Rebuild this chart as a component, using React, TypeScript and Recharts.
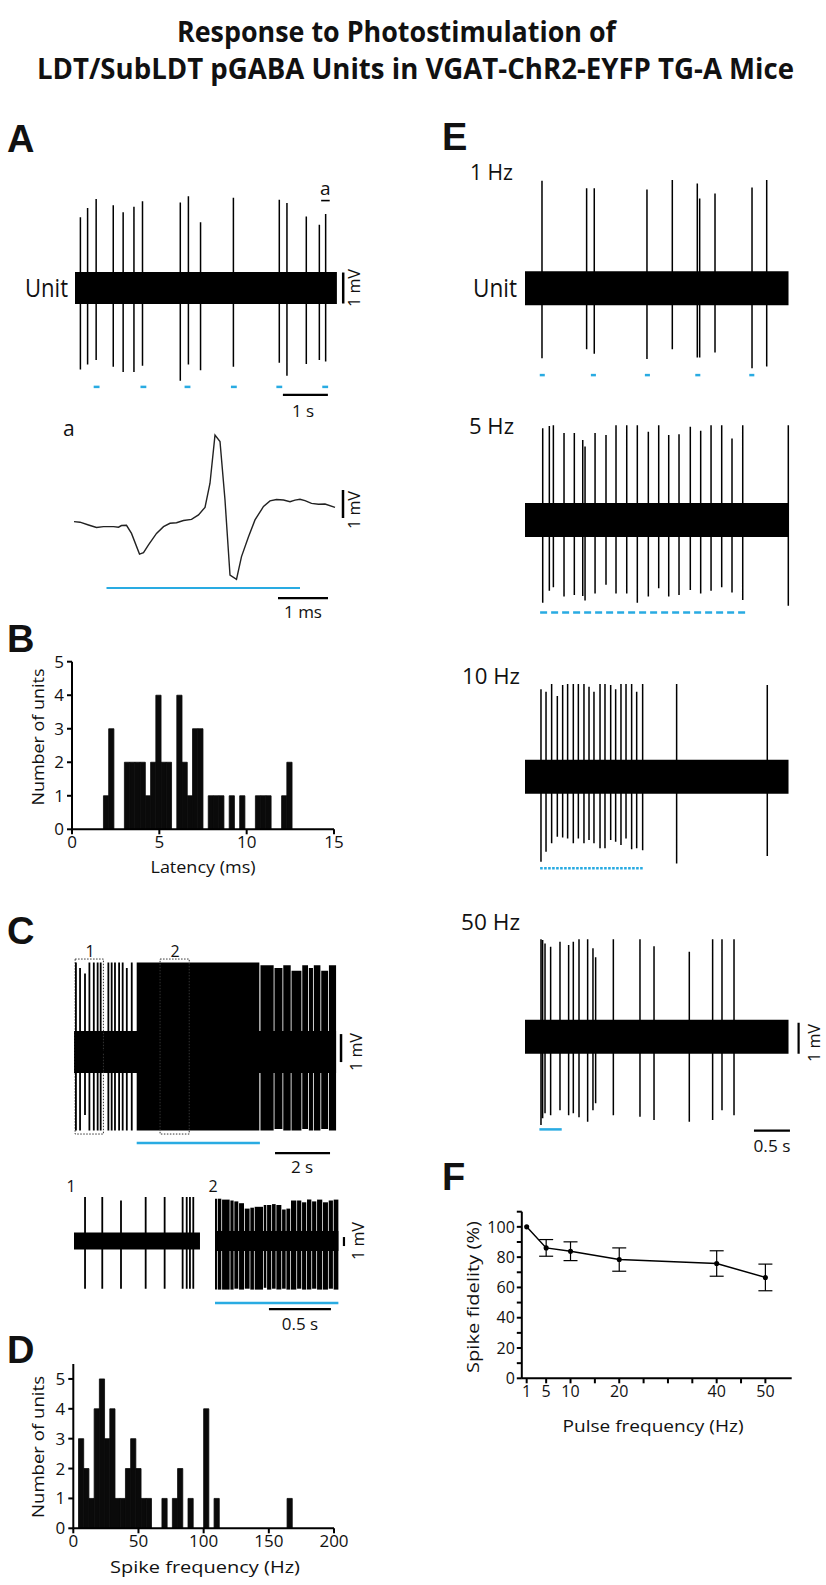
import React from "react";
import { LineChart, Line, XAxis, YAxis, ReferenceArea, ReferenceLine, BarChart, Bar, ErrorBar } from "recharts";

const BLUE = "#29abe2";
const INK = "#111";

// ---------- Panel A : unit trace (t in s, up / down amplitude in mV) ----------
const aSpikes = [
  [0.12, 2.28, 2.63], [0.28, 2.58, 2.47], [0.47, 2.87, 2.32], [0.85, 2.67, 2.54],
  [1.07, 2.44, 2.71], [1.31, 2.62, 2.71], [1.5, 2.8, 2.51], [2.34, 2.76, 2.99],
  [2.52, 2.96, 2.47], [2.79, 2.12, 2.65], [3.52, 2.91, 2.54], [4.54, 2.85, 2.41],
  [4.71, 2.74, 2.83], [5.14, 2.31, 2.45], [5.43, 2.04, 2.32], [5.57, 2.39, 2.37],
];
const aPulses = [0.48, 1.52, 2.5, 3.53, 4.54, 5.56];
const aNoise = [0, 5.82, 0.52];
const aScaleT = [4.62, 5.62, -3.45];
const aScaleV = [5.96, 0.5, -0.5];
const aMark = [5.47, 5.66, 2.82];

// ---------- Panel a : spike waveform (t in ms, mV) ----------
const waveT = [0, 0.12, 0.29, 0.45, 0.59, 0.79, 0.89, 0.95, 1.05, 1.15, 1.31, 1.39, 1.49, 1.65, 1.79, 1.92, 2.05, 2.19, 2.35, 2.49, 2.62, 2.72, 2.82, 2.92, 3.02, 3.12, 3.25, 3.35, 3.49, 3.62, 3.79, 3.92, 4.05, 4.19, 4.32, 4.42, 4.52, 4.62, 4.75, 4.89, 5.02, 5.22];
const waveV = [0.06, 0.04, -0.06, -0.15, -0.12, -0.12, -0.14, -0.08, -0.07, -0.36, -1.1, -1.05, -0.77, -0.36, -0.12, 0, 0.02, 0.1, 0.14, 0.3, 0.57, 1.43, 3.15, 2.92, 0.83, -1.85, -2.0, -1.19, -0.48, 0.12, 0.6, 0.8, 0.85, 0.83, 0.77, 0.83, 0.86, 0.81, 0.71, 0.68, 0.69, 0.57];
const waveLight = [0.65, 4.52, -2.31];
const waveScaleT = [4.08, 5.08, -2.67];
const waveScaleV = [5.38, 1.19, 0.19];

// ---------- Panel B : latency histogram ----------
const bBinStart = [1.8, 2.1, 3.0, 3.3, 3.6, 3.9, 4.2, 4.5, 4.8, 5.1, 5.4, 6.0, 6.3, 6.6, 6.9, 7.2, 7.8, 8.1, 8.4, 9.0, 9.6, 10.5, 10.8, 11.1, 12.0, 12.3];
const bCounts = [1, 3, 2, 2, 2, 2, 1, 2, 4, 2, 2, 4, 2, 1, 3, 3, 1, 1, 1, 1, 1, 1, 1, 1, 1, 2];
const bBinWidth = 0.3;
const bTicksX = [0, 5, 10, 15];
const bTicksY = [0, 1, 2, 3, 4, 5];

// ---------- Panel C : long trace ----------
const cSpikes = [
  [0.07, 3.2, 2.8], [0.22, 3.0, 2.8], [0.4, 2.8, 2.25], [0.56, 3.2, 2.8], [0.72, 3.2, 2.8],
  [0.86, 3.2, 2.8], [0.97, 3.2, 2.8], [1.25, 3.2, 2.8], [1.37, 3.2, 2.8], [1.49, 3.2, 2.8],
  [1.64, 3.2, 2.8], [1.77, 3.2, 2.8], [1.92, 3.0, 2.8], [2.1, 3.2, 2.8],
];
const cDense = [
  [2.28, 6.74, 3.2, 2.8], [6.78, 7.26, 3.1, 2.8], [7.29, 7.58, 3.0, 2.75], [7.61, 7.88, 3.1, 2.8],
  [7.91, 8.27, 2.9, 2.8], [8.3, 8.51, 3.1, 2.75], [8.54, 8.69, 3.0, 2.8], [8.72, 8.96, 3.1, 2.8],
  [8.99, 9.24, 2.9, 2.75], [9.27, 9.53, 3.1, 2.8],
];
const cNoise = [0, 9.53, 0.75];
const cBoxes = [[0.04, 1.07, 3.32, -2.93], [3.13, 4.19, 3.32, -2.93]];
const cLight = [2.28, 6.76, -3.25];
const cScaleT = [7.31, 9.31, -3.61];
const cScaleV = [9.71, 0.64, -0.36];

const c1Spikes = [
  [0.089, 4.9, 5.3], [0.228, 4.9, 5.3], [0.379, 4.5, 5.3], [0.578, 4.9, 5.3], [0.731, 4.9, 5.3],
  [0.876, 4.9, 5.3], [0.909, 4.9, 5.3], [0.935, 4.9, 5.3], [0.962, 4.9, 5.3],
];
const c1Noise = [0, 1.016, 0.95];
const c2Blocks = [
  [0, 0.016, 4.7, 5.4], [0.022, 0.051, 4.7, 5.4], [0.057, 0.118, 4.6, 5.4], [0.124, 0.15, 4.5, 5.4],
  [0.156, 0.188, 4.4, 5.3], [0.194, 0.234, 4.2, 5.4], [0.24, 0.279, 3.6, 5.3], [0.285, 0.314, 3.7, 5.4],
  [0.32, 0.387, 3.8, 5.4], [0.393, 0.414, 4.0, 5.2], [0.42, 0.454, 4.0, 5.4], [0.46, 0.489, 4.1, 5.3],
  [0.495, 0.535, 4.0, 5.4], [0.541, 0.57, 3.5, 5.3], [0.576, 0.607, 3.6, 5.4], [0.613, 0.656, 4.5, 5.4],
  [0.662, 0.696, 4.5, 5.3], [0.702, 0.736, 4.3, 5.4], [0.742, 0.777, 4.6, 5.4], [0.783, 0.817, 4.4, 5.3],
  [0.823, 0.865, 4.6, 5.4], [0.871, 0.911, 4.3, 5.4], [0.917, 0.951, 4.5, 5.3], [0.957, 0.995, 4.6, 5.4],
];
const c2Noise = [0, 0.995, 1.1];
const c2Light = [0, 0.995, -6.89];
const c2ScaleT = [0.435, 0.935, -7.56];
const c2ScaleV = [1.04, 0.44, -0.56];

// ---------- Panel D : spike frequency histogram ----------
const dBinStart = [4, 8, 12, 16, 20, 24, 28, 32, 36, 40, 44, 48, 52, 56, 68, 76, 80, 88, 100, 108, 164];
const dCounts = [3, 2, 1, 4, 5, 3, 4, 1, 1, 2, 3, 2, 1, 1, 1, 1, 2, 1, 4, 1, 1];
const dBinWidth = 4;
const dTicksX = [0, 50, 100, 150, 200];
const dTicksY = [0, 1, 2, 3, 4, 5];

// ---------- Panel E : photostimulation traces ----------
const e1Spikes = [
  [0.236, 3.47, 2.26], [0.856, 3.23, 1.97], [0.962, 3.23, 2.11], [1.694, 3.19, 2.28], [2.046, 3.49, 1.97],
  [2.393, 3.38, 2.23], [2.426, 2.9, 2.23], [2.639, 3.06, 2.07], [3.153, 3.25, 2.58], [3.357, 3.49, 2.52],
];
const e1Pulses = [0.24, 0.95, 1.7, 2.4, 3.15];
const e2Spikes = [
  [0.246, 2.96, 2.67], [0.338, 3.03, 2.28], [0.394, 3.06, 2.17], [0.542, 2.81, 2.47], [0.685, 2.81, 2.42],
  [0.802, 2.58, 2.45], [0.834, 2.37, 2.6], [0.973, 2.81, 2.37], [1.125, 2.74, 2.09], [1.264, 3.06, 2.37],
  [1.413, 3.06, 2.37], [1.56, 3.06, 2.67], [1.713, 2.85, 2.47], [1.857, 3.06, 2.2], [1.996, 2.74, 2.47],
  [2.139, 2.77, 2.42], [2.296, 3.01, 2.26], [2.44, 2.88, 2.37], [2.584, 3.06, 2.28], [2.732, 3.06, 2.17],
  [2.875, 2.63, 2.34], [3.024, 3.06, 2.58], [3.657, 3.06, 2.77],
];
const e2Train = [0.21, 3.08, -2.98];
const e3Spikes = [
  [0.222, 2.82, 2.74], [0.292, 2.74, 2.42], [0.37, 2.99, 2.15], [0.449, 2.6, 1.94], [0.523, 2.96, 1.96],
  [0.592, 2.99, 1.99], [0.671, 2.99, 2.15], [0.741, 2.99, 1.99], [0.819, 2.99, 2.15], [0.889, 2.9, 2.04],
  [0.958, 2.74, 2.15], [1.042, 2.99, 2.31], [1.111, 2.99, 2.31], [1.19, 2.96, 2.04], [1.259, 2.82, 2.1],
  [1.333, 2.99, 2.2], [1.403, 2.99, 1.99], [1.481, 2.99, 2.34], [1.551, 2.74, 2.31], [1.634, 2.99, 2.37],
  [2.106, 2.99, 2.8], [3.365, 2.96, 2.56],
];
const e3Train = [0.21, 1.65, -2.95];
const e4Spikes = [
  [0.222, 3.14, 2.85], [0.245, 3.12, 2.63], [0.278, 3.01, 2.47], [0.356, 2.9, 2.53], [0.486, 3.06, 2.37],
  [0.606, 2.96, 2.53], [0.671, 3.06, 2.47], [0.75, 3.14, 2.6], [0.87, 3.14, 2.74], [0.944, 2.85, 2.37],
  [0.981, 2.56, 2.15], [1.227, 3.14, 2.53], [1.597, 3.14, 2.58], [1.792, 2.92, 2.69], [2.282, 2.74, 2.74],
  [2.606, 3.14, 2.69], [2.736, 3.14, 2.37], [2.903, 3.14, 2.53],
];
const e4Train = [0.2, 0.51, -2.99];
const eNoise = [0, 3.66, 0.55];
const e4ScaleT = [3.18, 3.68, -3.03];
const e4ScaleV = [3.8, 0.45, -0.55];

// ---------- Panel F : spike fidelity ----------
const fFreq = [1, 5, 10, 20, 40, 50];
const fMean = [100, 86.1, 83.9, 78.4, 75.8, 66.6];
const fErr = [0, 5.5, 6.2, 7.7, 8.4, 8.8];
const fTicksX = [1, 5, 10, 15, 20, 25, 30, 35, 40, 45, 50];
const fLabelsX = [1, 5, 10, 20, 40, 50];
const fTicksY = [0, 10, 20, 30, 40, 50, 60, 70, 80, 90, 100, 110];

// ---------- layout ----------
const LAY = {
  A: { left: 75, top: 170, width: 295, height: 245, cy: 288, ppx: 45, ppv: 31 },
  a: { left: 74, top: 420, width: 290, height: 200, cy: 523.3, ppx: 50, ppv: 28 },
  C: { left: 74, top: 940, width: 295, height: 240, cy: 1052, ppx: 27.5, ppv: 28 },
  C1: { left: 74, top: 1190, width: 135, height: 120, cy: 1241, ppx: 124, ppv: 9 },
  C2: { left: 215, top: 1190, width: 150, height: 150, cy: 1241, ppx: 124, ppv: 9 },
  E1: { left: 525, top: 160, width: 300, height: 230, cy: 288.3, ppx: 72, ppv: 31 },
  E2: { left: 525, top: 400, width: 300, height: 230, cy: 520, ppx: 72, ppv: 31 },
  E3: { left: 525, top: 650, width: 300, height: 230, cy: 776.7, ppx: 72, ppv: 31 },
  E4: { left: 525, top: 900, width: 300, height: 265, cy: 1036.7, ppx: 72, ppv: 31 },
};

const area = (k: string, x1: number, x2: number, up: number, down: number) => (
  <ReferenceArea key={k} x1={x1} x2={x2} y1={-down} y2={up} fill="#000" fillOpacity={1} stroke="none" ifOverflow="visible" />
);
const hseg = (k: string, x1: number, x2: number, y: number, color: string, w: number, dash?: string) => (
  <ReferenceLine key={k} segment={[{ x: x1, y }, { x: x2, y }]} stroke={color} strokeWidth={w} strokeDasharray={dash} ifOverflow="visible" />
);
const vseg = (k: string, x: number, y1: number, y2: number, w: number) => (
  <ReferenceLine key={k} segment={[{ x, y: y1 }, { x, y: y2 }]} stroke="#000" strokeWidth={w} ifOverflow="visible" />
);

function Trace({ lay, spikes, wave, children, sw = 1.5 }: any) {
  const tMax = lay.width / lay.ppx;
  const vMax = (lay.cy - lay.top) / lay.ppv;
  const vMin = -(lay.top + lay.height - lay.cy) / lay.ppv;
  const data = wave
    ? wave
    : (spikes || []).flatMap(([t, u, d]: number[]) => [{ t, v: 0 }, { t, v: u }, { t, v: -d }, { t, v: 0 }]);
  return (
    <div style={{ position: "absolute", left: lay.left, top: lay.top }}>
      <LineChart width={lay.width} height={lay.height} data={data} margin={{ top: 0, right: 0, bottom: 0, left: 0 }}>
        <XAxis type="number" dataKey="t" domain={[0, tMax]} hide allowDataOverflow />
        <YAxis type="number" dataKey="v" domain={[vMin, vMax]} hide allowDataOverflow />
        {children}
        <Line dataKey="v" type="linear" stroke={wave ? "#222" : "#000"} strokeWidth={sw} dot={false} isAnimationActive={false} />
      </LineChart>
    </div>
  );
}

const tickStyle = { fontSize: 17, fill: INK, fontFamily: "'Open Sans', sans-serif" };
const axisLine = { stroke: "#000", strokeWidth: 2 };

function Hist({ left, top, width, height, margin, yw, xh, xDomain, yDomain, xTicks, yTicks, starts, counts, binW }: any) {
  const data = starts.map((s: number, i: number) => ({ x: s + binW / 2, n: counts[i] }));
  const plotW = width - margin.left - margin.right - yw;
  const barPx = (binW * plotW) / (xDomain[1] - xDomain[0]);
  return (
    <div style={{ position: "absolute", left, top }}>
      <BarChart width={width} height={height} data={data} margin={margin} barCategoryGap={0} barGap={0}>
        <XAxis type="number" dataKey="x" domain={xDomain} ticks={xTicks} height={xh} axisLine={axisLine} tickLine={axisLine} tickSize={5} tickMargin={2} tick={tickStyle} interval={0} allowDataOverflow />
        <YAxis type="number" domain={yDomain} ticks={yTicks} width={yw} axisLine={axisLine} tickLine={axisLine} tickSize={5} tickMargin={3} tick={tickStyle} interval={0} allowDataOverflow />
        <Bar dataKey="n" fill="#0a0a0a" stroke="#0a0a0a" strokeWidth={0.8} barSize={barPx * 0.995} isAnimationActive={false} />
      </BarChart>
    </div>
  );
}

function Txt({ x, y, s = 17, w, a = "start", b = false, rot = false, fam, children }: any) {
  return (
    <text
      x={x}
      y={y}
      fontSize={s}
      fontWeight={b ? 700 : 400}
      textAnchor={a}
      fontFamily={fam || "'Open Sans', sans-serif"}
      fill={INK}
      textLength={w}
      lengthAdjust={w ? "spacingAndGlyphs" : undefined}
      dominantBaseline={rot ? "central" : undefined}
      transform={rot ? `rotate(-90 ${x} ${y})` : undefined}
    >
      {children}
    </text>
  );
}

const LET = "'Liberation Sans', Arial, sans-serif";

export default function App() {
  const fData = fFreq.map((f, i) => ({ f, y: fMean[i], e: fErr[i] }));
  const wave = waveT.map((t, i) => ({ t, v: waveV[i] }));
  return (
    <div style={{ position: "absolute", left: 0, top: 0, width: 826, height: 1585, background: "#fff", overflow: "hidden", fontFamily: "'Open Sans', sans-serif" }}>
      {/* A */}
      <Trace lay={LAY.A} spikes={aSpikes}>
        {area("n", aNoise[0], aNoise[1], aNoise[2], aNoise[2])}
        {aPulses.map((p, i) => hseg("p" + i, p - 0.065, p + 0.065, -3.19, BLUE, 2.5))}
        {hseg("st", aScaleT[0], aScaleT[1], aScaleT[2], "#000", 2.2)}
        {vseg("sv", aScaleV[0], aScaleV[1], aScaleV[2], 2.5)}
        {hseg("mk", aMark[0], aMark[1], aMark[2], "#000", 1.6)}
      </Trace>
      {/* a */}
      <Trace lay={LAY.a} wave={wave} sw={1.4}>
        {hseg("l", waveLight[0], waveLight[1], waveLight[2], BLUE, 2.2)}
        {hseg("st", waveScaleT[0], waveScaleT[1], waveScaleT[2], "#000", 2.2)}
        {vseg("sv", waveScaleV[0], waveScaleV[1], waveScaleV[2], 2.5)}
      </Trace>
      {/* B */}
      <Hist left={20} top={650} width={330} height={230} margin={{ top: 11.7, right: 16, bottom: 0, left: 0 }} yw={52} xh={50.7}
        xDomain={[0, 15]} yDomain={[0, 5]} xTicks={bTicksX} yTicks={bTicksY} starts={bBinStart} counts={bCounts} binW={bBinWidth} />
      {/* C */}
      <Trace lay={LAY.C} spikes={cSpikes} sw={1.8}>
        {area("n", cNoise[0], cNoise[1], cNoise[2], cNoise[2])}
        {cDense.map((d, i) => area("d" + i, d[0], d[1], d[2], d[3]))}
        {cBoxes.map((b, i) => (
          <ReferenceArea key={"b" + i} x1={b[0]} x2={b[1]} y1={b[3]} y2={b[2]} fill="none" fillOpacity={0} stroke="#333" strokeWidth={1} strokeDasharray="1.5 1.5" ifOverflow="visible" />
        ))}
        {hseg("l", cLight[0], cLight[1], cLight[2], BLUE, 2.5)}
        {hseg("st", cScaleT[0], cScaleT[1], cScaleT[2], "#000", 2.2)}
        {vseg("sv", cScaleV[0], cScaleV[1], cScaleV[2], 2.5)}
      </Trace>
      <Trace lay={LAY.C1} spikes={c1Spikes} sw={1.8}>
        {area("n", c1Noise[0], c1Noise[1], c1Noise[2], c1Noise[2])}
      </Trace>
      <Trace lay={LAY.C2} spikes={[]} sw={1.6}>
        {area("n", c2Noise[0], c2Noise[1], c2Noise[2], c2Noise[2])}
        {c2Blocks.map((d, i) => area("d" + i, d[0], d[1], d[2], d[3]))}
        {hseg("l", c2Light[0], c2Light[1], c2Light[2], BLUE, 2.5)}
        {hseg("st", c2ScaleT[0], c2ScaleT[1], c2ScaleT[2], "#000", 2.2)}
        {vseg("sv", c2ScaleV[0], c2ScaleV[1], c2ScaleV[2], 2.2)}
      </Trace>
      {/* D */}
      <Hist left={20} top={1350} width={330} height={230} margin={{ top: 14, right: 16, bottom: 0, left: 0 }} yw={53.3} xh={51.7}
        xDomain={[0, 200]} yDomain={[0, 5.5]} xTicks={dTicksX} yTicks={dTicksY} starts={dBinStart} counts={dCounts} binW={dBinWidth} />
      {/* E */}
      <Trace lay={LAY.E1} spikes={e1Spikes}>
        {area("n", eNoise[0], eNoise[1], eNoise[2], eNoise[2])}
        {e1Pulses.map((p, i) => hseg("p" + i, p - 0.035, p + 0.035, -2.8, BLUE, 2.5))}
      </Trace>
      <Trace lay={LAY.E2} spikes={e2Spikes}>
        {area("n", eNoise[0], eNoise[1], eNoise[2], eNoise[2])}
        {hseg("tr", e2Train[0], e2Train[1], e2Train[2], BLUE, 2.5, "7 4")}
      </Trace>
      <Trace lay={LAY.E3} spikes={e3Spikes}>
        {area("n", eNoise[0], eNoise[1], eNoise[2], eNoise[2])}
        {hseg("tr", e3Train[0], e3Train[1], e3Train[2], BLUE, 2.5, "2.6 1.4")}
      </Trace>
      <Trace lay={LAY.E4} spikes={e4Spikes}>
        {area("n", eNoise[0], eNoise[1], eNoise[2], eNoise[2])}
        {hseg("tr", e4Train[0], e4Train[1], e4Train[2], BLUE, 2.5)}
        {hseg("st", e4ScaleT[0], e4ScaleT[1], e4ScaleT[2], "#000", 2.2)}
        {vseg("sv", e4ScaleV[0], e4ScaleV[1], e4ScaleV[2], 2.2)}
      </Trace>
      {/* F */}
      <div style={{ position: "absolute", left: 440, top: 1200 }}>
        <LineChart width={370} height={240} data={fData} margin={{ top: 11.7, right: 18.3, bottom: 0, left: 0 }}>
          <XAxis type="number" dataKey="f" domain={[0, 55.4]} ticks={fTicksX} interval={0} height={61.7} axisLine={axisLine} tickLine={axisLine} tickSize={5} tickMargin={2}
            tick={{ ...tickStyle, fontSize: 16 }} tickFormatter={(v: number) => (fLabelsX.includes(v) ? String(v) : "")} allowDataOverflow />
          <YAxis type="number" domain={[0, 110]} ticks={fTicksY} interval={0} width={81.8} axisLine={axisLine} tickLine={axisLine} tickSize={5} tickMargin={2}
            tick={{ ...tickStyle, fontSize: 16 }} tickFormatter={(v: number) => (v % 20 === 0 && v <= 100 ? String(v) : "")} allowDataOverflow />
          <Line dataKey="y" type="linear" stroke="#000" strokeWidth={1.5} dot={{ r: 1.8, fill: "#000", stroke: "#000" }} isAnimationActive={false}>
            <ErrorBar dataKey="e" width={7} stroke="#000" strokeWidth={1.2} direction="y" />
          </Line>
        </LineChart>
      </div>
      {/* text overlay */}
      <svg width={826} height={1585} style={{ position: "absolute", left: 0, top: 0, pointerEvents: "none" }}>
        <Txt x={177} y={42} s={28} b w={439}>Response to Photostimulation of</Txt>
        <Txt x={37} y={79} s={28} b w={757}>LDT/SubLDT pGABA Units in VGAT-ChR2-EYFP TG-A Mice</Txt>
        <Txt x={7} y={152} s={38} b fam={LET}>A</Txt>
        <Txt x={7} y={652} s={38} b fam={LET}>B</Txt>
        <Txt x={7} y={944} s={38} b fam={LET}>C</Txt>
        <Txt x={7} y={1363} s={38} b fam={LET}>D</Txt>
        <Txt x={442} y={150} s={38} b fam={LET}>E</Txt>
        <Txt x={442} y={1190} s={38} b fam={LET}>F</Txt>
        <Txt x={25} y={297} s={25} w={43}>Unit</Txt>
        <Txt x={353} y={288} s={17} rot a="middle" w={38}>1 mV</Txt>
        <Txt x={320} y={195} s={19}>a</Txt>
        <Txt x={303} y={417} s={17} a="middle">1 s</Txt>
        <Txt x={63} y={436} s={21}>a</Txt>
        <Txt x={353} y={510} s={17} rot a="middle" w={38}>1 mV</Txt>
        <Txt x={303} y={618} s={17} a="middle">1 ms</Txt>
        <Txt x={37} y={737} s={17} rot a="middle" w={137}>Number of units</Txt>
        <Txt x={203} y={873} s={17} a="middle" w={105}>Latency (ms)</Txt>
        <Txt x={90} y={957} s={16} a="middle">1</Txt>
        <Txt x={175} y={957} s={16} a="middle">2</Txt>
        <Txt x={355} y={1052} s={17} rot a="middle" w={38}>1 mV</Txt>
        <Txt x={302} y={1173} s={17} a="middle">2 s</Txt>
        <Txt x={71} y={1192} s={16} a="middle">1</Txt>
        <Txt x={213} y={1192} s={16} a="middle">2</Txt>
        <Txt x={357} y={1241} s={17} rot a="middle" w={38}>1 mV</Txt>
        <Txt x={300} y={1330} s={17} a="middle">0.5 s</Txt>
        <Txt x={37} y={1447} s={17} rot a="middle" w={142}>Number of units</Txt>
        <Txt x={205} y={1573} s={17} a="middle" w={190}>Spike frequency (Hz)</Txt>
        <Txt x={470} y={180} s={21} w={43}>1 Hz</Txt>
        <Txt x={473} y={297} s={25} w={44}>Unit</Txt>
        <Txt x={469} y={434} s={21} w={45}>5 Hz</Txt>
        <Txt x={462} y={684} s={21} w={58}>10 Hz</Txt>
        <Txt x={461} y={930} s={21} w={59}>50 Hz</Txt>
        <Txt x={813} y={1043} s={17} rot a="middle" w={38}>1 mV</Txt>
        <Txt x={772} y={1152} s={17} a="middle" w={37}>0.5 s</Txt>
        <Txt x={472} y={1297} s={17} rot a="middle" w={152}>Spike fidelity (%)</Txt>
        <Txt x={653} y={1432} s={17} a="middle" w={181}>Pulse frequency (Hz)</Txt>
      </svg>
    </div>
  );
}
